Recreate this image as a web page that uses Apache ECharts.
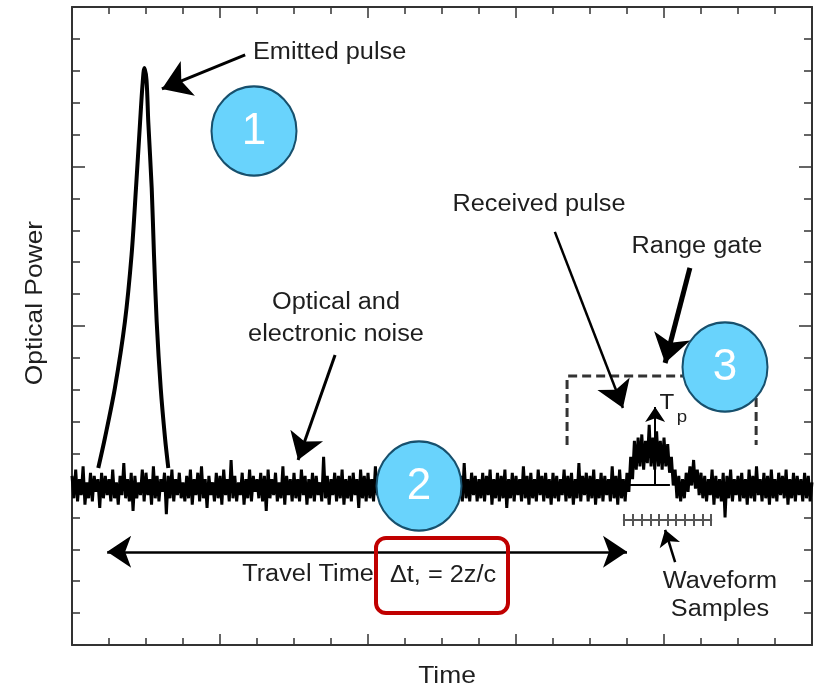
<!DOCTYPE html>
<html>
<head>
<meta charset="utf-8">
<script src="https://cdn.jsdelivr.net/npm/echarts@6/dist/echarts.min.js"></script>
<style>
html, body { margin: 0; padding: 0; background: #fff; }
#chart { width: 815px; height: 687px; }
</style>
</head>
<body>
<div id="chart"></div>
<script>
// sampled detector trace, one value every timeStep
const timeStep = 0.05;
const noiseLevel = [
    5.3,4.6,5.5,4.5,5.2,4.7,5.6,4.4,5.1,4.6,5.4,4.5,5.3,4.8,5.2,4.3,5.4,4.6,5.3,4.7,
    5.2,4.5,5.5,4.6,5.1,4.4,5.3,4.7,5.7,4.6,5.2,4.5,5.4,4.2,5.3,4.6,5.1,4.7,5.5,4.5,
    5.4,4.7,5.2,4.4,5.6,4.6,5.3,4.5,5.2,4.8,5.4,4.1,5.3,4.6,5.5,4.5,5.2,4.7,5.4,4.6,
    5.1,4.5,5.3,4.6,5.5,4.4,5.2,4.7,5.4,4.5,5.6,4.6,5.2,4.3,5.3,4.7,5.1,4.5,5.4,4.6,
    5.3,4.4,5.5,4.7,5.2,4.5,5.8,4.6,5.3,4.5,5.1,4.7,5.4,4.4,5.2,4.6,5.5,4.5,5.3,4.8,
    5.2,4.6,5.4,4.5,5.3,4.2,5.5,4.6,5.2,4.7,5.4,4.5,5.1,4.6,5.6,4.4,5.3,4.7,5.2,4.5,
    5.4,4.6,5.2,4.5,5.5,4.7,5.3,4.4,5.2,4.6,5.4,4.5,5.3,4.7,5.1,4.5,5.9,4.6,5.3,4.4,
    5.2,4.7,5.4,4.5,5.3,4.6,5.5,4.4,5.2,4.6,5.3,4.5,5.4,4.7,5.2,4.3,5.5,4.6,5.3,4.5,
    5.4,4.6,5.2,4.5,5.6,4.7,5.3,4.5,5.1,4.6,5.4,4.4,5.3,4.6,5.5,4.5,5.2,4.7,5.4,4.5,
    5.3,4.5,5.5,4.6,5.2,4.4,5.4,4.7,5.3,4.5,5.6,4.6,5.2,4.5,5.4,4.6,5.3,4.0,5.2,4.6,
    5.5,4.5,5.3,4.7,5.4,4.6,5.2,4.4,5.5,4.6,5.3,4.5,5.7,4.6,5.2,4.5,5.4,4.7,5.3,4.5,
    5.2,4.6,5.4,4.5,5.3,4.7,5.5,4.4,5.2,4.6,5.4,4.5,5.3,4.6,5.5,4.3,5.2,4.6,5.4,4.5,
    5.3,4.7,5.2,4.5,5.6,4.6,5.3,4.4,5.4,4.6,5.2,4.5,5.5,4.7,5.3,4.5,5.4,4.6,5.2,4.4,
    5.4,4.6,5.3,4.5,5.2,4.7,5.5,4.5,5.3,4.6,5.4,4.4,5.2,4.6,5.7,4.5,5.3,4.7,5.4,4.5,
    5.3,4.6,5.5,4.4,5.2,4.6,5.4,4.5,5.3,4.7,5.2,4.5,5.6,4.6,5.3,4.4,5.5,4.6,5.2,4.5,
    5.4,4.8,5.9,5.2,6.4,5.5,6.5,5.6,6.6,5.5,6.4,5.7,6.9,5.6,6.5,5.5,6.7,5.6,6.4,5.5,
    6.5,5.6,6.3,5.4,5.9,5.0,5.5,4.6,5.3,4.5,5.2,4.6,5.4,4.8,5.6,5.0,5.8,4.9,5.5,4.7,
    5.4,4.6,5.3,4.5,5.2,4.7,5.5,4.4,5.3,4.6,5.2,4.5,5.4,4.0,5.3,4.6,5.5,4.5,5.2,4.7,
    5.3,4.5,5.4,4.6,5.2,4.4,5.5,4.6,5.3,4.5,5.6,4.7,5.2,4.5,5.4,4.6,5.3,4.4,5.5,4.6,
    5.2,4.5,5.4,4.7,5.3,4.6,5.5,4.4,5.2,4.6,5.4,4.5,5.3,4.7,5.2,4.5,5.4,4.6,5.3,4.5,
    5.1
];

// emitted laser pulse
const pulseTime = [0.71,0.89,1.16,1.43,1.61,1.73,1.84,1.905,1.955,2.014,2.062,2.154,2.216,2.289,2.397,2.514,2.603];
const pulsePower = [5.55,6.49,8.06,10.13,12.23,14.33,16.39,17.55,18.09,17.71,16.39,14.33,12.23,10.13,8.06,6.49,5.55];

// digitizer sample instants inside the range gate
const sampleTimes = [14.92,15.16,15.39,15.63,15.86,16.10,16.33,16.57,16.80,17.04,17.27];

const FONT = '"Liberation Sans", Arial, sans-serif';
const INK = '#1e1e1e';

let chart = echarts.init(document.getElementById('chart'));

let tracePoints = noiseLevel.map(function (v, i) {
    return [+(i * timeStep).toFixed(2), v];
});
let pulsePoints = pulseTime.map(function (t, i) {
    return [t, pulsePower[i]];
});
let sampleTicks = sampleTimes.map(function (t) {
    return { coords: [[t, 3.73], [t, 4.11]] };
});

function frameAxis(pos, interval, minorSplit, majorLen, minorLen) {
    return {
        type: 'value',
        position: pos,
        min: 0,
        max: 20,
        interval: interval,
        axisLine: { show: true, onZero: false, lineStyle: { color: '#333', width: 2 } },
        axisTick: { show: true, inside: true, length: majorLen, lineStyle: { color: '#333', width: 1.5 } },
        minorTick: { show: true, splitNumber: minorSplit, length: minorLen, lineStyle: { color: '#333', width: 1.5 } },
        axisLabel: { show: false },
        splitLine: { show: false },
    };
}

function arrow(coords, width, head, both) {
    return {
        type: 'lines',
        coordinateSystem: 'cartesian2d',
        silent: true,
        symbol: both ? ['arrow', 'arrow'] : ['none', 'arrow'],
        symbolSize: head,
        lineStyle: { color: '#000', width: width, opacity: 1, curveness: 0 },
        data: [{ coords: coords }],
        z: 5,
    };
}

// the source figure's lettering is a bit wider than the font, hence scaleX
function label(text, x, y, size, align) {
    return {
        type: 'text',
        x: x,
        y: y,
        scaleX: 1.1,
        z: 100,
        style: {
            text: text,
            font: size + 'px ' + FONT,
            fill: INK,
            align: align || 'center',
            verticalAlign: 'middle',
        },
    };
}

function badge(n, x, y) {
    return [
        {
            type: 'circle',
            x: x,
            y: y,
            scaleY: 1.05,
            z: 100,
            shape: { cx: 0, cy: 0, r: 42.5 },
            style: { fill: '#69D3FC', stroke: '#17506D', lineWidth: 2 },
        },
        {
            type: 'text',
            x: x,
            y: y + 1,
            z: 101,
            style: {
                text: String(n),
                font: '44px ' + FONT,
                fill: '#fff',
                align: 'center',
                verticalAlign: 'middle',
            },
        },
    ];
}

let option = {
    animation: false,
    backgroundColor: '#fff',
    grid: { left: 72, right: 3, top: 7, bottom: 42 },
    xAxis: [
        frameAxis('bottom', 4, 4, 11, 7),
        frameAxis('top', 4, 4, 11, 7),
    ],
    yAxis: [
        frameAxis('left', 5, 5, 13, 8),
        frameAxis('right', 5, 5, 13, 8),
    ],
    series: [
        {
            name: 'trace',
            type: 'line',
            showSymbol: false,
            silent: true,
            data: tracePoints,
            lineStyle: { color: '#000', width: 3 },
            z: 2,
        },
        {
            name: 'emitted',
            type: 'line',
            showSymbol: false,
            silent: true,
            smooth: 0.3,
            data: pulsePoints,
            lineStyle: { color: '#000', width: 4 },
            z: 3,
        },
        // range gate, open at the bottom
        {
            type: 'lines',
            coordinateSystem: 'cartesian2d',
            polyline: true,
            silent: true,
            symbol: 'none',
            lineStyle: { color: '#333', width: 3, type: [9, 5], opacity: 1 },
            data: [{ coords: [[13.38, 6.27], [13.38, 8.43], [18.49, 8.43], [18.49, 6.27]] }],
            z: 4,
        },
        // pulse width marker
        {
            type: 'lines',
            coordinateSystem: 'cartesian2d',
            silent: true,
            symbol: 'none',
            lineStyle: { color: '#000', width: 2, opacity: 1 },
            data: [{ coords: [[15.03, 5.02], [16.16, 5.02]] }],
            z: 5,
        },
        arrow([[15.76, 5.02], [15.76, 7.46]], 2, 15),
        // waveform samples ruler
        {
            type: 'lines',
            coordinateSystem: 'cartesian2d',
            silent: true,
            symbol: 'none',
            lineStyle: { color: '#555', width: 2, opacity: 1 },
            data: [{ coords: [[14.89, 3.92], [17.30, 3.92]] }].concat(sampleTicks),
            z: 5,
        },
        arrow([[4.68, 18.5], [2.43, 17.43]], 3, 28),
        arrow([[7.11, 9.09], [6.11, 5.8]], 3, 26),
        arrow([[13.05, 12.95], [14.89, 7.43]], 2.5, 26),
        arrow([[16.70, 11.82], [16.03, 8.84]], 5, 28),
        arrow([[0.95, 2.92], [15.0, 2.92]], 2.5, 24, true),
        arrow([[16.30, 2.60], [16.03, 3.61]], 2.5, 16),
    ],
    graphic: [
        label('Emitted pulse', 253, 53, 23, 'left'),
        label('Optical and', 336, 303, 23),
        label('electronic noise', 336, 335, 23),
        label('Received pulse', 539, 205, 23),
        label('Range gate', 697, 247, 23),
        label('T', 667, 403, 22),
        label('p', 682, 417, 17),
        label('Travel Time', 308, 575, 23),
        label('\u0394t, = 2z/c', 443, 576, 23),
        label('Waveform', 720, 582, 23),
        label('Samples', 720, 610, 23),
        label('Time', 447, 676, 24),
        {
            type: 'text',
            x: 35,
            y: 303,
            rotation: Math.PI / 2,
            scaleX: 1.1,
            z: 100,
            style: {
                text: 'Optical Power',
                font: '24px ' + FONT,
                fill: INK,
                align: 'center',
                verticalAlign: 'middle',
            },
        },
        {
            type: 'rect',
            z: 100,
            shape: { x: 376, y: 538, width: 132, height: 75, r: 10 },
            style: { fill: 'none', stroke: '#C00000', lineWidth: 4 },
        },
    ]
        .concat(badge(1, 254, 131))
        .concat(badge(2, 419, 486))
        .concat(badge(3, 725, 367)),
};

chart.setOption(option);
</script>
</body>
</html>
